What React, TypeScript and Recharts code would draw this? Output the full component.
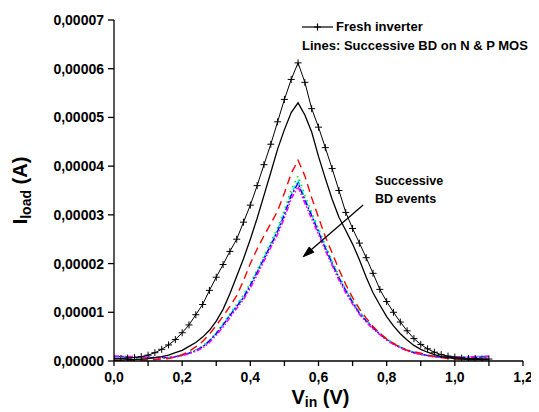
import React from 'react';
import { LineChart, Line, XAxis, YAxis, ReferenceLine, ReferenceDot } from 'recharts';

// Input voltage (V)
const vin = [
  0.0, 0.02, 0.04, 0.06, 0.08, 0.1, 0.12, 0.14, 0.16, 0.18,
  0.2, 0.22, 0.24, 0.26, 0.28, 0.3, 0.32, 0.34, 0.36, 0.38,
  0.4, 0.42, 0.44, 0.46, 0.48, 0.5, 0.52, 0.54, 0.56, 0.58,
  0.6, 0.62, 0.64, 0.66, 0.68, 0.7, 0.72, 0.74, 0.76, 0.78,
  0.8, 0.82, 0.84, 0.86, 0.88, 0.9, 0.92, 0.94, 0.96, 0.98,
  1.0, 1.02, 1.04, 1.06, 1.08, 1.1,
];

// Load current, in units of 1e-5 A
const freshInverter = [
  0.05, 0.05, 0.06, 0.07, 0.09, 0.12, 0.17, 0.24, 0.33, 0.44,
  0.58, 0.74, 0.95, 1.16, 1.45, 1.72, 1.98, 2.25, 2.5, 2.85,
  3.2, 3.6, 4.03, 4.45, 4.91, 5.37, 5.78, 6.12, 5.72, 5.18,
  4.8, 4.38, 3.95, 3.5, 3.05, 2.72, 2.42, 2.12, 1.8, 1.47,
  1.22, 1.0, 0.8, 0.62, 0.46, 0.34, 0.25, 0.18, 0.13, 0.1,
  0.08, 0.06, 0.05, 0.05, 0.04, 0.04,
];
const bd1Black = [
  0.02, 0.02, 0.03, 0.03, 0.04, 0.05, 0.07, 0.09, 0.12, 0.17,
  0.22, 0.3, 0.38, 0.49, 0.63, 0.82, 1.06, 1.38, 1.74, 2.1,
  2.5, 2.93, 3.4, 3.87, 4.35, 4.75, 5.1, 5.3, 5.05, 4.7,
  4.2, 3.75, 3.32, 2.95, 2.68, 2.4, 2.08, 1.72, 1.4, 1.15,
  0.91, 0.72, 0.56, 0.43, 0.32, 0.24, 0.18, 0.13, 0.09, 0.07,
  0.05, 0.04, 0.03, 0.03, 0.03, 0.03,
];
const bd2Red = [
  0.01, 0.01, 0.01, 0.02, 0.02, 0.02, 0.03, 0.04, 0.05, 0.08,
  0.13, 0.2, 0.29, 0.4, 0.55, 0.73, 0.92, 1.12, 1.34, 1.65,
  2.0, 2.3, 2.57, 2.82, 3.08, 3.45, 3.85, 4.12, 3.8, 3.35,
  2.95, 2.55, 2.22, 1.88, 1.57, 1.3, 1.07, 0.88, 0.71, 0.57,
  0.45, 0.36, 0.28, 0.22, 0.19, 0.16, 0.12, 0.09, 0.07, 0.05,
  0.04, 0.04, 0.03, 0.03, 0.03, 0.03,
];
const bd3Blue = [
  0.09, 0.09, 0.08, 0.08, 0.08, 0.07, 0.07, 0.07, 0.07, 0.09,
  0.12, 0.16, 0.21, 0.29, 0.41, 0.56, 0.74, 0.93, 1.12, 1.3,
  1.55, 1.82, 2.1, 2.38, 2.66, 3.0, 3.4, 3.65, 3.3, 2.98,
  2.65, 2.32, 2.0, 1.7, 1.44, 1.2, 0.98, 0.82, 0.68, 0.55,
  0.44, 0.35, 0.28, 0.22, 0.17, 0.14, 0.11, 0.09, 0.08, 0.07,
  0.07, 0.07, 0.07, 0.07, 0.08, 0.09,
];
const bd4Magenta = [
  0.1, 0.1, 0.09, 0.09, 0.08, 0.08, 0.07, 0.07, 0.07, 0.08,
  0.11, 0.15, 0.2, 0.27, 0.38, 0.53, 0.7, 0.89, 1.08, 1.26,
  1.5, 1.77, 2.05, 2.33, 2.6, 2.94, 3.33, 3.58, 3.24, 2.92,
  2.6, 2.27, 1.96, 1.66, 1.4, 1.17, 0.96, 0.8, 0.66, 0.54,
  0.43, 0.34, 0.27, 0.21, 0.17, 0.13, 0.11, 0.09, 0.08, 0.08,
  0.08, 0.08, 0.08, 0.09, 0.09, 0.1,
];
const bd5Cyan = [
  0.08, 0.08, 0.08, 0.07, 0.07, 0.07, 0.07, 0.07, 0.07, 0.09,
  0.12, 0.16, 0.22, 0.3, 0.42, 0.57, 0.75, 0.95, 1.14, 1.33,
  1.57, 1.84, 2.12, 2.4, 2.7, 3.04, 3.44, 3.7, 3.34, 3.0,
  2.68, 2.35, 2.03, 1.72, 1.46, 1.22, 1.0, 0.84, 0.69, 0.56,
  0.45, 0.36, 0.29, 0.22, 0.18, 0.14, 0.12, 0.1, 0.09, 0.08,
  0.08, 0.08, 0.08, 0.09, 0.09, 0.1,
];
const bd6Green = [
  0.06, 0.06, 0.06, 0.06, 0.06, 0.06, 0.06, 0.06, 0.07, 0.09,
  0.12, 0.17, 0.23, 0.31, 0.43, 0.58, 0.77, 0.97, 1.16, 1.36,
  1.6, 1.87, 2.16, 2.44, 2.74, 3.1, 3.52, 3.8, 3.4, 3.05,
  2.72, 2.38, 2.06, 1.75, 1.48, 1.24, 1.02, 0.85, 0.7, 0.57,
  0.46, 0.37, 0.29, 0.23, 0.18, 0.14, 0.11, 0.09, 0.08, 0.07,
  0.07, 0.07, 0.07, 0.07, 0.07, 0.07,
];

const xTicks = [0, 0.1, 0.2, 0.3, 0.4, 0.5, 0.6, 0.7, 0.8, 0.9, 1.0, 1.1, 1.2];
const yTicks = [0, 0.00001, 0.00002, 0.00003, 0.00004, 0.00005, 0.00006, 0.00007];

const legendFresh = 'Fresh inverter';
const legendLines = 'Lines: Successive BD on N & P MOS';
const annotationLines = ['Successive', 'BD events'];
const arrowFrom = { x: 0.731, y: 0.000032 };
const arrowTo = { x: 0.555, y: 0.0000214 };
const annotationAt = { x: 0.766, y: 0.0000361 };

const SCALE = 1e-5;
const data = vin.map((v, i) => ({
  v,
  fresh: freshInverter[i] * SCALE,
  black: bd1Black[i] * SCALE,
  red: bd2Red[i] * SCALE,
  blue: bd3Blue[i] * SCALE,
  magenta: bd4Magenta[i] * SCALE,
  cyan: bd5Cyan[i] * SCALE,
  green: bd6Green[i] * SCALE,
}));

const FONT = "'Liberation Sans', Arial, Helvetica, sans-serif";

const CrossDot = (props: any) => {
  const { cx, cy, index } = props;
  if (cx == null || cy == null) return <g key={`c${index}`} />;
  return (
    <path
      key={`c${index}`}
      d={`M${cx - 3.5},${cy}H${cx + 3.5}M${cx},${cy - 3.5}V${cy + 3.5}`}
      stroke="#000"
      strokeWidth={1}
      fill="none"
    />
  );
};

const XTick = (props: any) => {
  const { x, y, payload } = props;
  const v = payload.value as number;
  const even = Math.round(v * 10) % 2 === 0;
  if (!even) return <g />;
  return (
    <text x={x} y={y + 14} textAnchor="middle" fontFamily={FONT} fontWeight="bold" fontSize={14} fill="#000">
      {v.toFixed(1).replace('.', ',')}
    </text>
  );
};

const YTick = (props: any) => {
  const { x, y, payload } = props;
  const v = payload.value as number;
  return (
    <text x={x - 1} y={y} dy="0.36em" textAnchor="end" fontFamily={FONT} fontWeight="bold" fontSize={14} fill="#000">
      {v.toFixed(5).replace('.', ',')}
    </text>
  );
};

const XTitle = (props: any) => {
  const vb = props.viewBox || { x: 106, y: 353, width: 409, height: 51 };
  const cx = vb.x + vb.width / 2 + 2;
  const by = vb.y + 43;
  return (
    <text x={cx} y={by} textAnchor="middle" fontFamily={FONT} fontWeight="bold" fontSize={20} fill="#000">
      V<tspan fontSize={14} dy={3}>in</tspan>
      <tspan dy={-3}> (V)</tspan>
    </text>
  );
};

const YTitle = (props: any) => {
  const vb = props.viewBox || { x: 0, y: 12, width: 106, height: 341 };
  const cy = vb.y + vb.height / 2;
  const bx = vb.x + 19;
  return (
    <text
      x={bx}
      y={cy}
      transform={`rotate(-90, ${bx}, ${cy})`}
      textAnchor="middle"
      fontFamily={FONT}
      fontWeight="bold"
      fontSize={20}
      fill="#000"
    >
      I<tspan fontSize={14} dy={4}>load</tspan>
      <tspan dy={-4}> (A)</tspan>
    </text>
  );
};

const ArrowShape = (props: any) => {
  const { x1, y1, x2, y2 } = props;
  if ([x1, y1, x2, y2].some((n) => n == null || isNaN(n))) return <g />;
  const ang = Math.atan2(y2 - y1, x2 - x1);
  const len = 11;
  const hw = 3.5;
  const bx = x2 - len * Math.cos(ang);
  const by = y2 - len * Math.sin(ang);
  const px = -Math.sin(ang) * hw;
  const py = Math.cos(ang) * hw;
  return (
    <g>
      <line x1={x1} y1={y1} x2={bx} y2={by} stroke="#000" strokeWidth={1.3} />
      <polygon points={`${x2},${y2} ${bx + px},${by + py} ${bx - px},${by - py}`} fill="#000" stroke="#000" strokeWidth={1} />
    </g>
  );
};

const AnnotationShape = (props: any) => {
  const { cx, cy } = props;
  if (cx == null || cy == null) return <g />;
  return (
    <g>
      {annotationLines.map((t, i) => (
        <text key={t} x={cx} y={cy + i * 18} fontFamily={FONT} fontWeight="bold" fontSize={12.5} fill="#000">
          {t}
        </text>
      ))}
    </g>
  );
};

export default function App() {
  return (
    <div style={{ position: 'relative', width: 531, height: 404 }}>
      <LineChart width={531} height={404} data={data} margin={{ top: 12, right: 16, left: 0, bottom: 0 }}>
        <XAxis
          dataKey="v"
          type="number"
          domain={[0, 1.2]}
          ticks={xTicks}
          interval={0}
          tick={<XTick />}
          tickSize={5}
          tickMargin={2}
          height={51}
          axisLine={{ stroke: '#000', strokeWidth: 1.3 }}
          tickLine={{ stroke: '#000', strokeWidth: 1.3 }}
          label={(p: any) => <XTitle {...p} />}
          allowDataOverflow
        />
        <YAxis
          type="number"
          domain={[0, 0.00007]}
          ticks={yTicks}
          interval={0}
          tick={<YTick />}
          tickSize={6}
          tickMargin={3}
          width={106}
          axisLine={{ stroke: '#000', strokeWidth: 1.3 }}
          tickLine={{ stroke: '#000', strokeWidth: 1.3 }}
          label={(p: any) => <YTitle {...p} />}
          allowDataOverflow
        />
        <Line dataKey="green" type="linear" stroke="#00ee00" strokeWidth={1.6} strokeDasharray="1.5 4" dot={false} isAnimationActive={false} />
        <Line dataKey="cyan" type="linear" stroke="#00e5e5" strokeWidth={1.5} strokeDasharray="5 2 1.5 2" dot={false} isAnimationActive={false} />
        <Line dataKey="blue" type="linear" stroke="#0000ff" strokeWidth={1.4} strokeDasharray="6 2 2 2" dot={false} isAnimationActive={false} />
        <Line dataKey="magenta" type="linear" stroke="#ff00ff" strokeWidth={1.6} strokeDasharray="5 2 1.5 2 1.5 2" dot={false} isAnimationActive={false} />
        <Line dataKey="red" type="linear" stroke="#ff0000" strokeWidth={1.4} strokeDasharray="8 5" dot={false} isAnimationActive={false} />
        <Line dataKey="black" type="linear" stroke="#000" strokeWidth={1.3} dot={false} isAnimationActive={false} />
        <Line dataKey="fresh" type="linear" stroke="#000" strokeWidth={1} dot={CrossDot} isAnimationActive={false} />
        <ReferenceLine
          segment={[arrowFrom, arrowTo]}
          ifOverflow="visible"
          shape={(p: any) => <ArrowShape {...p} />}
        />
        <ReferenceDot
          x={annotationAt.x}
          y={annotationAt.y}
          r={0}
          ifOverflow="visible"
          shape={(p: any) => <AnnotationShape {...p} />}
        />
      </LineChart>
      <div
        style={{
          position: 'absolute',
          left: 294,
          top: 9,
          fontFamily: FONT,
          fontWeight: 'bold',
          fontSize: 13,
          lineHeight: '19px',
          color: '#000',
          whiteSpace: 'nowrap',
        }}
      >
        <div style={{ display: 'flex', alignItems: 'center' }}>
          <svg width={31} height={12} style={{ display: 'block', marginRight: 3 }}>
            <line x1={0} y1={6} x2={31} y2={6} stroke="#000" strokeWidth={1.2} />
            <path d="M12,6H19M15.5,2.5V9.5" stroke="#000" strokeWidth={1.2} fill="none" />
          </svg>
          <span>{legendFresh}</span>
        </div>
        <div>{legendLines}</div>
      </div>
    </div>
  );
}
